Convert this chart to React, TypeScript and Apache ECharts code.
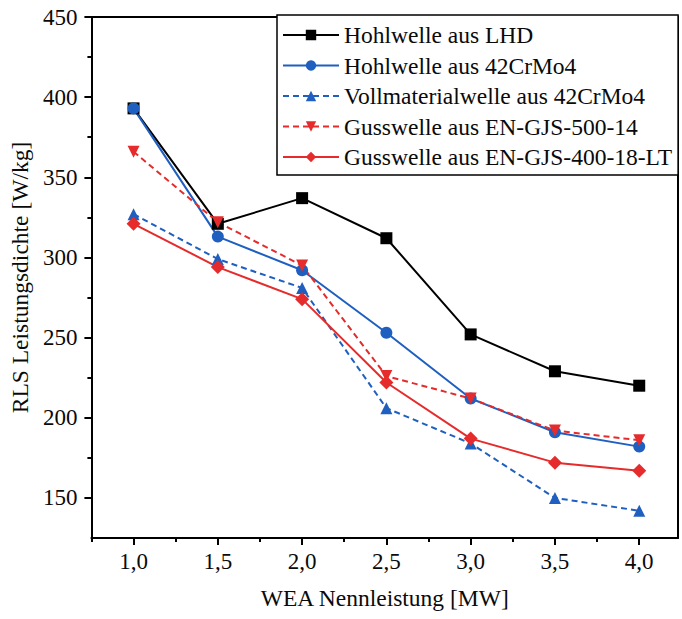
import React, { useEffect, useRef } from "react";
import * as echarts from "echarts";

const xValues = [1.0, 1.5, 2.0, 2.5, 3.0, 3.5, 4.0];
const seriesNames = [
  "Hohlwelle aus LHD",
  "Hohlwelle aus 42CrMo4",
  "Vollmaterialwelle aus 42CrMo4",
  "Gusswelle aus EN-GJS-500-14",
  "Gusswelle aus EN-GJS-400-18-LT",
];
const hohlLHD = [393, 321, 337, 312, 252, 229, 220];
const hohl42 = [393, 313, 292, 253, 212, 191, 182];
const voll42 = [327, 299, 281, 206, 184, 150, 142];
const guss500 = [366, 322, 295, 226, 212, 192, 186];
const guss400 = [321, 294, 274, 222, 187, 172, 167];
const xMajorTicks = [1.0, 1.5, 2.0, 2.5, 3.0, 3.5, 4.0];
const xMinorTicks = [0.75, 1.25, 1.75, 2.25, 2.75, 3.25, 3.75];
const yMajorTicks = [150, 200, 250, 300, 350, 400, 450];
const yMinorTicks = [175, 225, 275, 325, 375, 425];

const BLACK = "#000000";
const BLUE = "#1f5fbf";
const RED = "#e52b2b";
const FONT = "'Liberation Serif', 'Times New Roman', serif";
const TXT = "#0a0a0a";

export default function App() {
  const ref = useRef<HTMLDivElement>(null);
  useEffect(() => {
    if (!ref.current) return;
    const chart = echarts.init(ref.current, null, { renderer: "svg" });
    const pairs = (ys: number[]) => xValues.map((x, i) => [x, ys[i]]);
    const xMin = 0.75;
    const xMax = 4.23;
    const yMin = 125;
    const yMax = 450;
    const axisLine = { show: true, lineStyle: { color: BLACK, width: 2 } };
    const mk = (
      name: string,
      data: number[],
      color: string,
      symbol: string,
      size: number,
      dashed: boolean
    ) => ({
      name,
      type: "line",
      data: pairs(data),
      symbol,
      symbolSize: size,
      showSymbol: true,
      itemStyle: { color },
      lineStyle: { color, width: 2, type: dashed ? [6, 4] : "solid" },
      xAxisIndex: 0,
      yAxisIndex: 0,
      z: 3,
    });
    chart.setOption({
      animation: false,
      backgroundColor: "#ffffff",
      textStyle: { fontFamily: FONT },
      grid: { left: 86, right: 4, top: 17, bottom: 81, containLabel: false },
      legend: {
        show: true,
        orient: "vertical",
        left: 277,
        top: 15,
        padding: [8, 6, 6, 5],
        backgroundColor: "#ffffff",
        borderColor: BLACK,
        borderWidth: 1.5,
        itemWidth: 56,
        itemHeight: 13,
        itemGap: 6.5,
        textStyle: { fontFamily: FONT, fontSize: 23.5, color: TXT, lineHeight: 20 },
        data: seriesNames,
      },
      xAxis: [
        {
          type: "value",
          min: xMin,
          max: xMax,
          position: "bottom",
          axisLine,
          splitLine: { show: false },
          axisTick: { show: true, inside: false, length: 7, customValues: xMajorTicks, lineStyle: { color: BLACK, width: 2 } },
          axisLabel: {
            show: true,
            customValues: xMajorTicks,
            margin: 12,
            fontFamily: FONT,
            fontSize: 23,
            color: TXT,
            formatter: (v: number) => v.toFixed(1).replace(".", ","),
          },
          name: "WEA Nennleistung [MW]",
          nameLocation: "middle",
          nameGap: 48,
          nameTextStyle: { fontFamily: FONT, fontSize: 23.5, color: TXT },
        },
        {
          type: "value",
          min: xMin,
          max: xMax,
          position: "bottom",
          axisLine: { show: false },
          splitLine: { show: false },
          axisTick: { show: true, inside: false, length: 4, customValues: xMinorTicks, lineStyle: { color: BLACK, width: 2 } },
          axisLabel: { show: false },
        },
        {
          type: "value",
          min: xMin,
          max: xMax,
          position: "top",
          axisLine,
          splitLine: { show: false },
          axisTick: { show: false },
          axisLabel: { show: false },
        },
      ],
      yAxis: [
        {
          type: "value",
          min: yMin,
          max: yMax,
          position: "left",
          axisLine,
          splitLine: { show: false },
          axisTick: { show: true, inside: false, length: 7, customValues: yMajorTicks, lineStyle: { color: BLACK, width: 2 } },
          axisLabel: {
            show: true,
            customValues: yMajorTicks,
            margin: 14,
            fontFamily: FONT,
            fontSize: 23,
            color: TXT,
          },
          name: "RLS Leistungsdichte [W/kg]",
          nameLocation: "middle",
          nameGap: 53,
          nameTextStyle: { fontFamily: FONT, fontSize: 23.5, color: TXT },
        },
        {
          type: "value",
          min: yMin,
          max: yMax,
          position: "left",
          axisLine: { show: false },
          splitLine: { show: false },
          axisTick: { show: true, inside: false, length: 4, customValues: yMinorTicks, lineStyle: { color: BLACK, width: 2 } },
          axisLabel: { show: false },
        },
        {
          type: "value",
          min: yMin,
          max: yMax,
          position: "right",
          axisLine,
          splitLine: { show: false },
          axisTick: { show: false },
          axisLabel: { show: false },
        },
      ],
      series: [
        mk(seriesNames[0], hohlLHD, BLACK, "rect", 12, false),
        mk(seriesNames[1], hohl42, BLUE, "circle", 12, false),
        mk(seriesNames[2], voll42, BLUE, "triangle", 12, true),
        mk(seriesNames[3], guss500, RED, "path://M0,0 L10,0 L5,9 Z", 12, true),
        mk(seriesNames[4], guss400, RED, "diamond", 14, false),
      ],
    });
    return () => chart.dispose();
  }, []);
  return (
    <div
      ref={ref}
      style={{ position: "fixed", left: 0, top: 0, width: 682, height: 619, background: "#fff" }}
    />
  );
}
